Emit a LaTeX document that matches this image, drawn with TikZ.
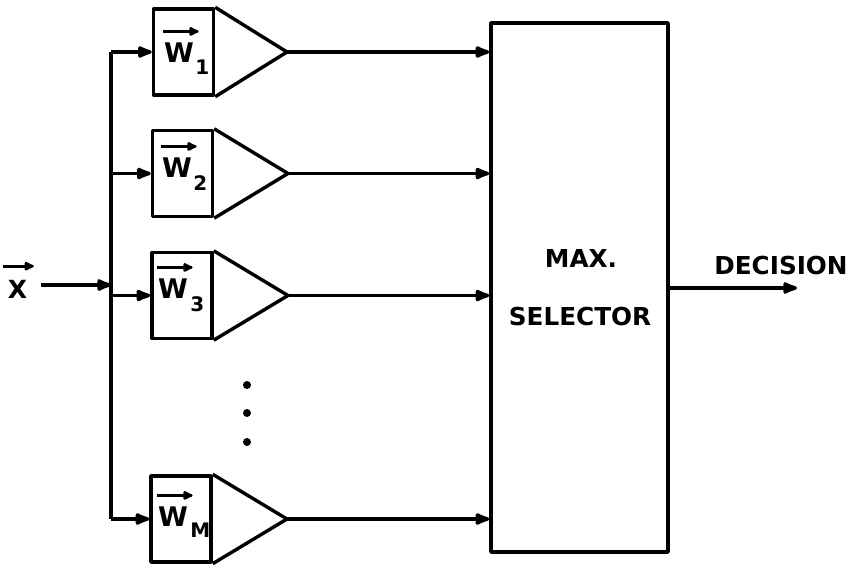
\documentclass[tikz,border=0pt]{standalone}
\usepackage{fontspec}
\setmainfont{DejaVu Sans}
\usetikzlibrary{arrows.meta}
\begin{document}
\begin{tikzpicture}[x=1pt,y=-1pt,line width=3.4pt,line join=round,
  txt/.style={inner sep=0pt,font=\bfseries\fontsize{24.7}{28}\selectfont},
  wlbl/.style={inner sep=0pt,font=\bfseries\fontsize{27}{30}\selectfont},
  sublbl/.style={inner sep=0pt,anchor=north west,font=\bfseries\fontsize{20}{22}\selectfont},
  wbox/.style={draw,minimum width=60pt,minimum height=86pt,inner sep=0pt},
  sig/.style={-{Latex[length=19pt,width=14pt,round]}},
  vecarr/.style={line width=3pt,-{Latex[length=12pt,width=11pt,round]}}]
\useasboundingbox (0,0) rectangle (849,565);

% selector
\node[draw,minimum width=177pt,minimum height=529pt,inner sep=0pt] (sel) at (579.5,287.5) {};
\node[txt] (max) at (581,258) {MAX.};
\node[txt] (selt) at (580,317) {SELECTOR};

% weight boxes
\node[wbox] (b1) at (183.5,52) {};
\node[wbox] (b2) at (182.5,173.5) {};
\node[wbox] (b3) at (182,295.5) {};
\node[wbox] (bm) at (181,519) {};

% amplifier triangles
\coordinate (a1) at (287,52);
\coordinate (a2) at (288,173.5);
\coordinate (a3) at (288,295.5);
\coordinate (am) at (287,519);
\draw (b1.north east) -- (a1) -- (b1.south east);
\draw (b2.north east) -- (a2) -- (b2.south east);
\draw (b3.north east) -- (a3) -- (b3.south east);
\draw (bm.north east) -- (am) -- (bm.south east);

% labels in boxes
\node[wlbl] (w1) at (179,53) {W};
\node[sublbl] at ([xshift=-2pt,yshift=6pt]w1.south east) {1};
\node[wlbl] (w2) at (177,168) {W};
\node[sublbl] at ([xshift=-2pt,yshift=6pt]w2.south east) {2};
\node[wlbl] (w3) at (173,289) {W};
\node[sublbl] at ([xshift=-1pt,yshift=6pt]w3.south east) {3};
\node[wlbl] (wm) at (173,517) {W};
\node[sublbl] at ([xshift=-1pt,yshift=7pt]wm.south east) {M};
\foreach \w in {w1,w2,w3,wm}
  \draw[vecarr] ([xshift=1pt,yshift=10pt]\w.north west) -- ([xshift=3pt,yshift=10pt]\w.north east);

% input
\node[txt,font=\bfseries\fontsize{25}{28}\selectfont] (x) at (17.5,289) {X};
\draw[vecarr] ([xshift=-3pt,yshift=12pt]x.north west) -- ([xshift=5pt,yshift=12pt]x.north east);
\coordinate (bus) at (111,285);
\coordinate (bustop) at (111,52);
\coordinate (busbot) at (111,519);
\draw[sig] ([xshift=12pt]x.east |- bus) -- (bus);
\draw (bustop) -- (busbot);
\draw[sig] (bustop) -- (b1.west);
\draw[sig] (bustop |- b2.west) -- (b2.west);
\draw[sig] (bustop |- b3.west) -- (b3.west);
\draw[sig] (busbot) -- (bm.west);

% outputs to selector
\draw[sig] (a1) -- (sel.west |- a1);
\draw[sig] (a2) -- (sel.west |- a2);
\draw[sig] (a3) -- (sel.west |- a3);
\draw[sig] (am) -- (sel.west |- am);

% dots
\fill (247,385) circle (4pt);
\fill (247,413) circle (4pt);
\fill (247,442) circle (4pt);

% decision
\coordinate (dec) at (797,288);
\draw[sig] (sel.east |- dec) -- (dec);
\node[txt] (dect) at (781,266) {DECISION};
\end{tikzpicture}
\end{document}
